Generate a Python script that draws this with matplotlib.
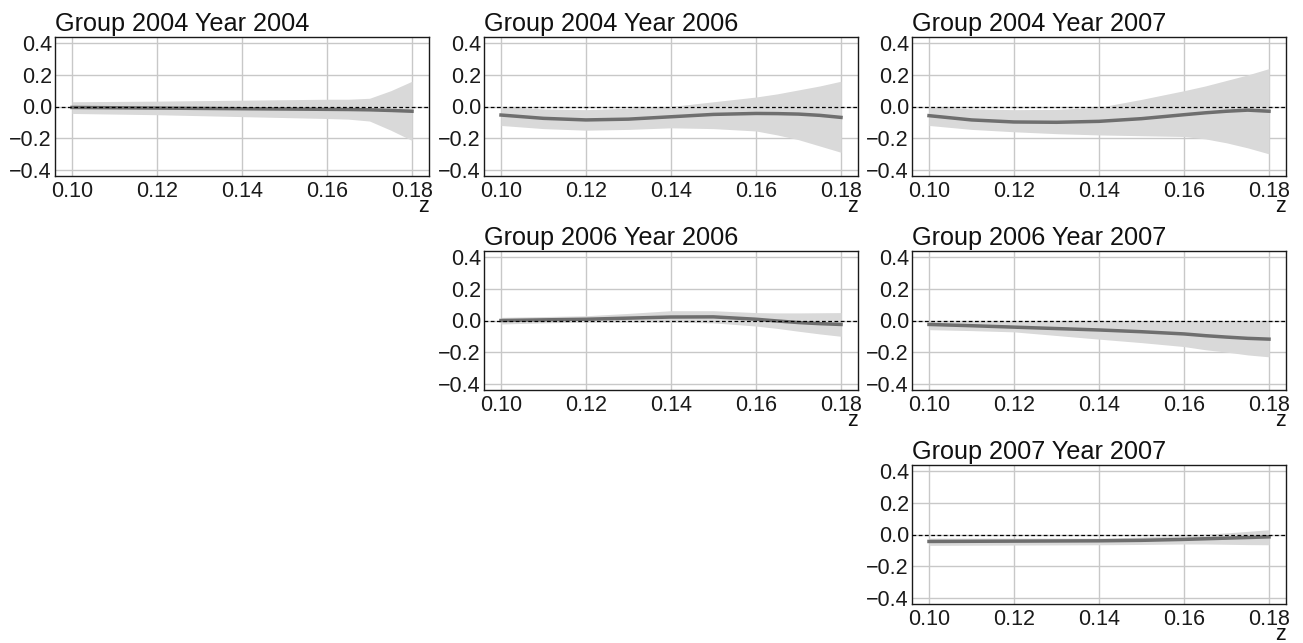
import matplotlib
matplotlib.use("Agg")
import matplotlib.pyplot as plt

plt.rcParams['font.family'] = ['Liberation Sans', 'DejaVu Sans']

z = [0.10, 0.11, 0.12, 0.13, 0.14, 0.15, 0.16, 0.165, 0.17, 0.175, 0.18]

titles = ["Group 2004 Year 2004", "Group 2004 Year 2006", "Group 2004 Year 2007",
          "Group 2006 Year 2006", "Group 2006 Year 2007", "Group 2007 Year 2007"]

est_g04_y04 = [-0.006, -0.008, -0.010, -0.012, -0.014, -0.016, -0.018, -0.019, -0.021, -0.025, -0.030]
lo_g04_y04 = [-0.044, -0.048, -0.052, -0.058, -0.064, -0.070, -0.076, -0.080, -0.092, -0.150, -0.215]
hi_g04_y04 = [0.030, 0.032, 0.034, 0.037, 0.040, 0.043, 0.046, 0.046, 0.052, 0.100, 0.160]

est_g04_y06 = [-0.054, -0.075, -0.085, -0.080, -0.065, -0.050, -0.044, -0.045, -0.048, -0.056, -0.069]
lo_g04_y06 = [-0.120, -0.140, -0.150, -0.145, -0.135, -0.140, -0.155, -0.180, -0.210, -0.250, -0.290]
hi_g04_y06 = [0.000, -0.015, -0.020, -0.010, 0.000, 0.030, 0.060, 0.080, 0.105, 0.130, 0.160]

est_g04_y07 = [-0.058, -0.085, -0.098, -0.100, -0.094, -0.077, -0.052, -0.040, -0.030, -0.023, -0.030]
lo_g04_y07 = [-0.120, -0.145, -0.160, -0.172, -0.180, -0.185, -0.190, -0.205, -0.230, -0.262, -0.300]
hi_g04_y07 = [0.000, -0.015, -0.020, -0.018, -0.005, 0.045, 0.100, 0.130, 0.165, 0.200, 0.240]

est_g06_y06 = [0.000, 0.004, 0.008, 0.015, 0.022, 0.023, 0.008, -0.003, -0.013, -0.020, -0.025]
lo_g06_y06 = [-0.022, -0.015, -0.010, -0.010, -0.010, -0.015, -0.035, -0.050, -0.068, -0.085, -0.100]
hi_g06_y06 = [0.020, 0.025, 0.030, 0.045, 0.062, 0.062, 0.050, 0.048, 0.048, 0.049, 0.050]

est_g06_y07 = [-0.025, -0.033, -0.042, -0.051, -0.060, -0.071, -0.085, -0.096, -0.105, -0.113, -0.118]
lo_g06_y07 = [-0.058, -0.064, -0.072, -0.095, -0.118, -0.140, -0.165, -0.185, -0.200, -0.218, -0.230]
hi_g06_y07 = [-0.002, -0.002, -0.002, -0.002, -0.002, -0.002, -0.002, -0.002, -0.002, -0.002, -0.002]

est_g07_y07 = [-0.044, -0.043, -0.042, -0.041, -0.040, -0.037, -0.031, -0.027, -0.023, -0.019, -0.015]
lo_g07_y07 = [-0.069, -0.068, -0.067, -0.066, -0.065, -0.063, -0.060, -0.060, -0.062, -0.064, -0.065]
hi_g07_y07 = [-0.023, -0.023, -0.023, -0.023, -0.023, -0.016, -0.006, 0.002, 0.010, 0.020, 0.030]

series = [(est_g04_y04, lo_g04_y04, hi_g04_y04),
          (est_g04_y06, lo_g04_y06, hi_g04_y06),
          (est_g04_y07, lo_g04_y07, hi_g04_y07),
          (est_g06_y06, lo_g06_y06, hi_g06_y06),
          (est_g06_y07, lo_g06_y07, hi_g06_y07),
          (est_g07_y07, lo_g07_y07, hi_g07_y07)]

cells = [(0, 0), (0, 1), (0, 2), (1, 1), (1, 2), (2, 2)]

W, H = 1303, 643
fig = plt.figure(figsize=(W / 100, H / 100), dpi=100)
col_left = [55, 484, 912]
row_top = [37, 251, 465]
aw, ah = 374, 139

for (r, c), title, (est, lo, hi) in zip(cells, titles, series):
    ax = fig.add_axes([col_left[c] / W, 1 - (row_top[r] + ah) / H, aw / W, ah / H])
    ax.set_axisbelow(True)
    ax.grid(True, color='#c8c8c8', linewidth=1.0)
    ax.fill_between(z, lo, hi, color='#d9d9d9', linewidth=0, zorder=2)
    ax.plot(z, est, color='#6e6e6e', linewidth=2.5, zorder=3)
    ax.axhline(0, color='black', linestyle=(0, (3, 2)), linewidth=0.9, zorder=4)
    ax.set_xlim(0.096, 0.184)
    ax.set_ylim(-0.44, 0.44)
    ax.set_xticks([0.10, 0.12, 0.14, 0.16, 0.18])
    ax.set_xticklabels(['0.10', '0.12', '0.14', '0.16', '0.18'])
    ax.set_yticks([-0.4, -0.2, 0.0, 0.2, 0.4])
    ax.set_yticklabels(['\u22120.4', '\u22120.2', '0.0', '0.2', '0.4'])
    ax.tick_params(axis='y', length=0, pad=2.2, labelsize=15.5, colors='#1a1a1a')
    ax.tick_params(axis='x', length=0, pad=3.5, labelsize=15.5, colors='#1a1a1a')
    for s in ax.spines.values():
        s.set_color('#1a1a1a')
        s.set_linewidth(1.0)
    ax.set_title(title, loc='left', fontsize=18.2, pad=4, color='#111111')
    ax.set_xlabel('z', loc='right', fontsize=15.5, labelpad=-4.5, color='#111111')

fig.savefig('out.png', dpi=100)
